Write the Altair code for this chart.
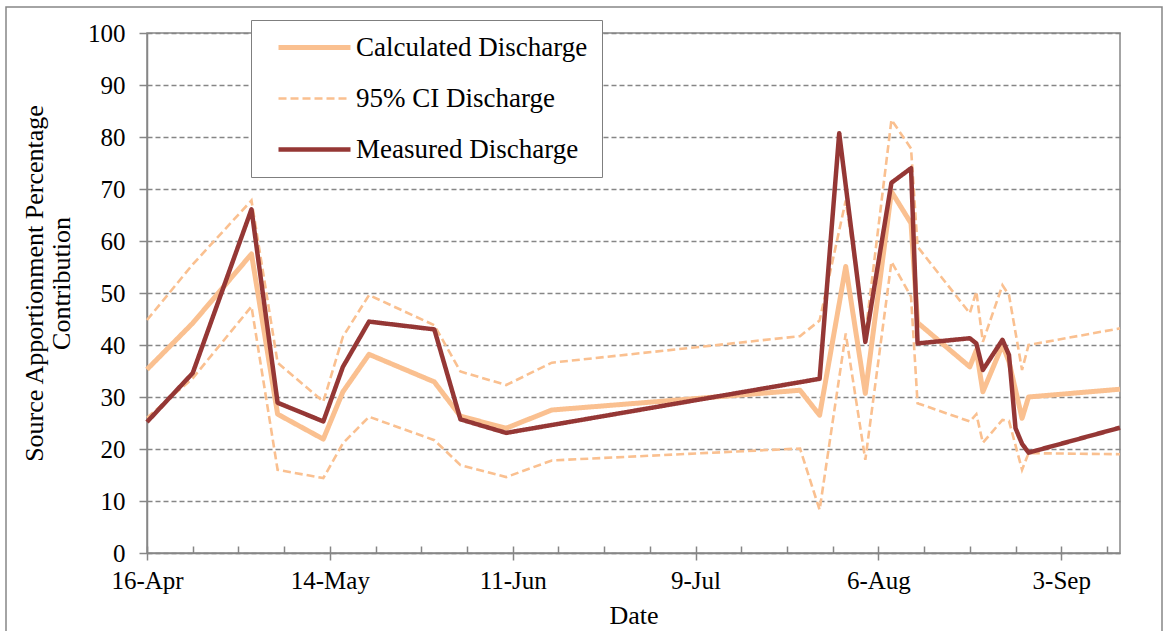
import altair as alt
import pandas as pd

# ---------------- data ----------------
calc_dates = ["2013/04/16", "2013/04/23", "2013/05/02", "2013/05/06", "2013/05/13", "2013/05/16",
              "2013/05/20", "2013/05/30", "2013/06/03", "2013/06/10", "2013/06/17", "2013/07/25",
              "2013/07/28", "2013/08/01", "2013/08/04", "2013/08/08", "2013/08/11", "2013/08/12",
              "2013/08/20", "2013/08/21", "2013/08/22", "2013/08/25", "2013/08/26", "2013/08/28",
              "2013/08/29", "2013/09/12"]
calc_values = [35.3, 44.2, 57.5, 26.7, 21.9, 31.0, 38.2, 32.9, 26.3, 24.0, 27.5, 31.3,
               26.5, 55.1, 30.7, 69.5, 63.4, 44.3, 35.8, 39.0, 31.0, 40.0, 36.8, 25.9,
               30.0, 31.5]
ci_upper = [44.8, 55.5, 67.8, 36.6, 29.1, 41.6, 49.6, 43.8, 34.9, 32.3, 36.6, 41.7,
            44.7, 67.8, 42.0, 83.3, 77.8, 58.9, 46.1, 50.3, 40.6, 51.5, 49.6, 35.2,
            40.0, 43.2]
ci_lower = [26.0, 33.6, 47.4, 16.0, 14.4, 21.1, 26.2, 21.7, 16.9, 14.6, 17.8, 20.1,
            8.3, 42.2, 17.9, 56.0, 49.3, 28.8, 25.3, 26.7, 21.2, 25.6, 25.4, 16.0,
            19.2, 19.0]

meas_dates = ["2013/04/16", "2013/04/23", "2013/05/02", "2013/05/06", "2013/05/13", "2013/05/16",
              "2013/05/20", "2013/05/30", "2013/06/03", "2013/06/10", "2013/07/28", "2013/07/31",
              "2013/08/04", "2013/08/08", "2013/08/11", "2013/08/12", "2013/08/20", "2013/08/21",
              "2013/08/22", "2013/08/25", "2013/08/26", "2013/08/27", "2013/08/28", "2013/08/29",
              "2013/09/12"]
meas_values = [25.2, 34.6, 66.1, 28.9, 25.3, 35.8, 44.5, 43.0, 25.7, 23.1, 33.5, 80.7,
               40.6, 71.2, 74.0, 40.3, 41.3, 40.3, 35.2, 41.0, 38.1, 24.0, 21.0, 19.3,
               24.1]

series_names = ["Calculated Discharge", "95% CI Discharge", "Measured Discharge"]
series_colors = ["#FAC090", "#FAC090", "#953735"]
series_dash = [[1, 0], [8, 4], [1, 0]]
series_width = [5, 2.6, 4.5]

y_ticks = list(range(0, 101, 10))
x_major_dates = pd.date_range("2013-04-16", "2013-09-10", freq="28D")
x_minor_dates = pd.date_range("2013-04-16", "2013-09-10", freq="7D")

# ---------------- table ----------------
rows = []
for d, v in zip(calc_dates, calc_values):
    rows.append({"date": d, "value": v, "series": series_names[0], "line": "calc"})
for d, v in zip(calc_dates, ci_upper):
    rows.append({"date": d, "value": v, "series": series_names[1], "line": "upper"})
for d, v in zip(calc_dates, ci_lower):
    rows.append({"date": d, "value": v, "series": series_names[1], "line": "lower"})
for d, v in zip(meas_dates, meas_values):
    rows.append({"date": d, "value": v, "series": series_names[2], "line": "meas"})
df = pd.DataFrame(rows)

FONT = "Liberation Serif"
GRAY = "#868686"


def dt(t):
    return alt.DateTime(year=t.year, month=t.month, date=t.day)


x_scale = alt.Scale(domain=[alt.DateTime(year=2013, month=4, date=16),
                            alt.DateTime(year=2013, month=9, date=12)])

# main x axis: labelled major ticks (outward)
x_main = alt.X(
    "date:T",
    scale=x_scale,
    axis=alt.Axis(
        values=[dt(t) for t in x_major_dates],
        format="%-d-%b",
        labelOverlap=False,
        labelFlush=False,
        grid=False,
        tickSize=7,
        labelPadding=8,
        title="Date",
        titleY=62,
        titleBaseline="middle",
        orient="bottom",
    ),
)
# secondary x axis: weekly ticks pointing inward
x_minor = alt.X(
    "date:T",
    scale=x_scale,
    axis=alt.Axis(
        values=[dt(t) for t in x_minor_dates],
        labels=False,
        domain=False,
        grid=False,
        tickSize=7,
        offset=-7,
        title=None,
        orient="bottom",
    ),
)
x_none = alt.X("date:T", scale=x_scale, axis=None)

y_enc = alt.Y(
    "value:Q",
    scale=alt.Scale(domain=[0, 100], nice=False),
    axis=alt.Axis(
        values=y_ticks,
        grid=True,
        gridDash=[5, 3],
        gridColor=GRAY,
        gridWidth=1.3,
        tickSize=8,
        labelPadding=14,
        title=["Source Apportionment Percentage", "Contribution"],
        titleAngle=270,
        titleX=-113,
        titleY=250,
        titleAlign="center",
        titleBaseline="middle",
        titleLineHeight=27,
    ),
)

leg = alt.Legend(
    title=None,
    orient="none",
    legendX=104,
    legendY=-13,
    fillColor="white",
    strokeColor="#7f7f7f",
    padding=14,
    symbolType="M-3.6,0H3.6",
    symbolSize=400,
    symbolOffset=36,
    labelOffset=28,
    labelFont=FONT,
    labelFontSize=27,
    labelColor="black",
    rowPadding=23,
    labelLimit=500,
)

color_enc = alt.Color("series:N", scale=alt.Scale(domain=series_names, range=series_colors), legend=leg)
dash_enc = alt.StrokeDash("series:N", scale=alt.Scale(domain=series_names, range=series_dash), legend=leg)
width_enc = alt.StrokeWidth("series:N",
                            scale=alt.Scale(type="ordinal", domain=series_names, range=series_width),
                            legend=leg)

base = alt.Chart(df).encode(y=y_enc, color=color_enc, strokeDash=dash_enc,
                            strokeWidth=width_enc, detail="line:N")

calc_layer = base.mark_line(strokeJoin="round").encode(x=x_main).transform_filter(
    alt.datum.line == "calc")
ci_layer = base.mark_line().encode(x=x_none).transform_filter(
    (alt.datum.line == "upper") | (alt.datum.line == "lower"))
meas_layer = base.mark_line(strokeJoin="round").encode(x=x_minor).transform_filter(
    alt.datum.line == "meas")

frame = alt.Chart(alt.Data(values=[{"a": 1}])).mark_rect(
    fill="transparent", stroke=GRAY, strokeWidth=1.5
).encode(x=alt.value(-141), x2=alt.value(1015), y=alt.value(-26), y2=alt.value(700))

chart = (
    alt.layer(frame, calc_layer, ci_layer, meas_layer)
    .resolve_axis(x="independent")
    .properties(width=973, height=520, autosize=alt.AutoSizeParams(type="none"),
                padding={"left": 147, "top": 33, "right": 46, "bottom": 78},
                background="white")
    .configure_view(stroke=GRAY, strokeWidth=1.5)
    .configure_axis(
        domainColor=GRAY, domainWidth=1.5, tickColor=GRAY, tickWidth=1.5,
        labelFont=FONT, labelFontSize=25, labelColor="black",
        titleFont=FONT, titleFontSize=26, titleFontWeight="normal", titleColor="black",
    )
)

chart.save("out.html", embed_options={"renderer": "svg", "actions": False})
